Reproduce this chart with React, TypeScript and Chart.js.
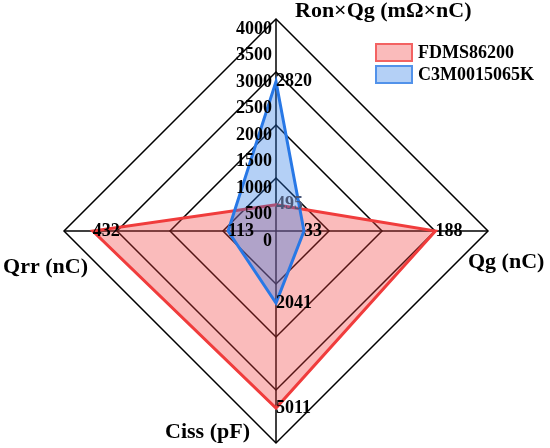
import React, { useEffect, useRef } from "react";
import { Chart, registerables } from "chart.js";

Chart.register(...registerables);

const axisTitles = ["Ron×Qg (mΩ×nC)", "Qg (nC)", "Ciss (pF)", "Qrr (nC)"];
const axisMax = [4000, 250, 6000, 500];
const seriesNames = ["FDMS86200", "C3M0015065K"];
const fdmsValues = [495, 188, 5011, 432];
const c3mValues = [2820, 33, 2041, 113];
const tickLabels = [0, 500, 1000, 1500, 2000, 2500, 3000, 3500, 4000];

const SCALE_MAX = 4000;
const norm = (vals: number[]) => vals.map((v, i) => (v / axisMax[i]) * SCALE_MAX);

const FONT = "'Liberation Serif', 'Times New Roman', serif";

const overlayPlugin = {
  id: "overlay",
  afterDatasetsDraw(chart: any) {
    const ctx = chart.ctx;
    const r = chart.scales.r;
    ctx.save();
    // tick labels along top axis
    ctx.font = `bold 18px ${FONT}`;
    ctx.fillStyle = "#000";
    ctx.textAlign = "right";
    ctx.textBaseline = "middle";
    tickLabels.forEach((t) => {
      const d = r.getDistanceFromCenterForValue(t);
      ctx.fillText(String(t), r.xCenter - 4, r.yCenter - d + 10);
    });
    // data labels
    ctx.textAlign = "left";
    const drawLabels = (dsIndex: number, raw: number[], colors: string[]) => {
      const meta = chart.getDatasetMeta(dsIndex);
      meta.data.forEach((pt: any, i: number) => {
        ctx.fillStyle = colors[i];
        ctx.fillText(String(raw[i]), pt.x, pt.y);
      });
    };
    drawLabels(0, fdmsValues, ["#4b5878", "#000", "#000", "#000"]);
    drawLabels(1, c3mValues, ["#000", "#000", "#000", "#000"]);
    // axis titles
    ctx.font = `bold 22px ${FONT}`;
    ctx.fillStyle = "#000";
    const cx = r.xCenter;
    const cy = r.yCenter;
    const R = r.drawingArea;
    ctx.fillText(axisTitles[0], cx + 19, cy - R - 8);
    ctx.fillText(axisTitles[1], cx + R - 20, cy + 31);
    ctx.textAlign = "right";
    ctx.fillText(axisTitles[2], cx - 26, cy + R - 11);
    ctx.fillText(axisTitles[3], cx - R + 24, cy + 36);
    // legend
    const lx = 375;
    const items = [
      { y: 43, fill: "rgba(240,60,60,0.35)", stroke: "rgba(240,60,60,0.7)" },
      { y: 65, fill: "rgba(40,120,230,0.35)", stroke: "rgba(40,120,230,0.7)" },
    ];
    ctx.font = `bold 18px ${FONT}`;
    ctx.textAlign = "left";
    items.forEach((it, i) => {
      ctx.fillStyle = "#fff";
      ctx.fillRect(lx, it.y, 38, 19);
      ctx.fillStyle = it.fill;
      ctx.fillRect(lx, it.y, 38, 19);
      ctx.strokeStyle = it.stroke;
      ctx.lineWidth = 2;
      ctx.strokeRect(lx + 1, it.y + 1, 36, 17);
      ctx.fillStyle = "#000";
      ctx.fillText(seriesNames[i], lx + 43, it.y + 10);
    });
    ctx.restore();
  },
};

export default function App() {
  const ref = useRef<HTMLCanvasElement>(null);
  useEffect(() => {
    if (!ref.current) return;
    const chart = new Chart(ref.current, {
      type: "radar",
      data: {
        labels: axisTitles,
        datasets: [
          {
            label: seriesNames[0],
            data: norm(fdmsValues),
            borderColor: "rgb(240,60,60)",
            backgroundColor: "rgba(240,60,60,0.35)",
            borderWidth: 3,
            pointRadius: 0,
            fill: true,
            order: 2,
          },
          {
            label: seriesNames[1],
            data: norm(c3mValues),
            borderColor: "rgb(40,120,230)",
            backgroundColor: "rgba(40,120,230,0.35)",
            borderWidth: 3,
            pointRadius: 0,
            fill: true,
            order: 1,
          },
        ],
      },
      options: {
        responsive: false,
        animation: false,
        layout: { padding: { left: 64, right: 62, top: 19, bottom: 5 } },
        plugins: {
          legend: { display: false },
          tooltip: { enabled: false },
        },
        elements: { line: { tension: 0 } },
        scales: {
          r: {
            min: 0,
            max: SCALE_MAX,
            ticks: { display: false, stepSize: 1000 },
            pointLabels: { display: false },
            grid: { color: "#000", lineWidth: 1.5 },
            angleLines: { color: "#000", lineWidth: 1.5 },
          },
        },
      },
      plugins: [overlayPlugin],
    });
    return () => chart.destroy();
  }, []);
  return (
    <div style={{ position: "fixed", left: 0, top: 0, width: 550, height: 448, background: "#fff" }}>
      <canvas ref={ref} width={550} height={448} />
    </div>
  );
}
